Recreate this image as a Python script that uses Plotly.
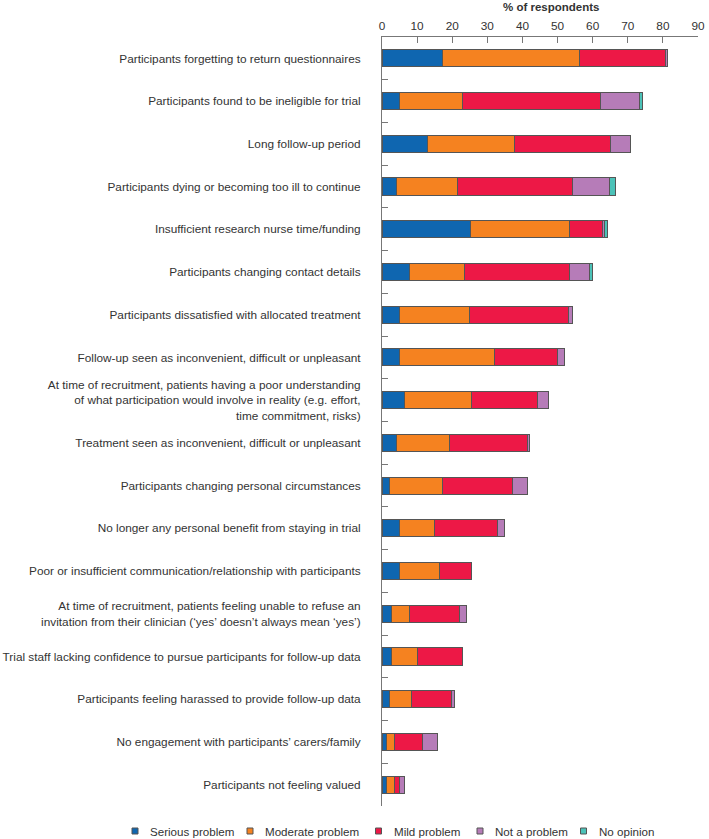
import plotly.graph_objects as go

# Barriers to retention, top to bottom as in the figure
reasons = [
    "Participants forgetting to return questionnaires",
    "Participants found to be ineligible for trial",
    "Long follow-up period",
    "Participants dying or becoming too ill to continue",
    "Insufficient research nurse time/funding",
    "Participants changing contact details",
    "Participants dissatisfied with allocated treatment",
    "Follow-up seen as inconvenient, difficult or unpleasant",
    "At time of recruitment, patients having a poor understanding<br>"
    "of what participation would involve in reality (e.g. effort,<br>"
    "time commitment, risks)",
    "Treatment seen as inconvenient, difficult or unpleasant",
    "Participants changing personal circumstances",
    "No longer any personal benefit from staying in trial",
    "Poor or insufficient communication/relationship with participants",
    "At time of recruitment, patients feeling unable to refuse an<br>"
    "invitation from their clinician (\u2018yes\u2019 doesn\u2019t always mean \u2018yes\u2019)",
    "Trial staff lacking confidence to pursue participants for follow-up data",
    "Participants feeling harassed to provide follow-up data",
    "No engagement with participants\u2019 carers/family",
    "Participants not feeling valued",
]

# % of respondents per response category
serious = [17.1, 5.0, 12.9, 4.2, 25.1, 7.9, 5.0, 5.0, 6.4, 4.2, 2.1, 5.0, 5.0, 2.8, 2.8, 2.1, 1.3, 1.3]
moderate = [39.2, 17.8, 24.9, 17.2, 28.4, 15.6, 20.0, 27.1, 19.2, 15.0, 15.0, 9.9, 11.3, 5.1, 7.2, 6.3, 2.2, 2.2]
mild = [24.5, 39.4, 27.2, 32.9, 9.3, 30.0, 28.0, 17.9, 18.7, 22.2, 20.1, 17.9, 9.3, 14.2, 12.9, 11.5, 7.9, 1.5]
not_problem = [0.5, 11.2, 5.7, 10.6, 0.6, 5.7, 1.3, 2.1, 3.0, 0.6, 4.2, 2.1, 0.0, 2.1, 0.0, 0.8, 4.3, 1.4]
no_opinion = [0.0, 0.9, 0.0, 1.6, 0.9, 0.7, 0.0, 0.0, 0.0, 0.0, 0.0, 0.0, 0.0, 0.0, 0.0, 0.0, 0.0, 0.0]

series = [
    ("Serious problem", serious, "#0f66b0"),
    ("Moderate problem", moderate, "#f58220"),
    ("Mild problem", mild, "#ed1846"),
    ("Not a problem", not_problem, "#b67cb8"),
    ("No opinion", no_opinion, "#4cc2b8"),
]

FONT = "Liberation Sans, Arial, sans-serif"
TEXT = "#333333"
EDGE = "#555555"
AXIS = "#777777"

W, H = 709, 839
M_L, M_R, M_T, M_B = 382, 11, 37, 33
PLOT_W = W - M_L - M_R
PLOT_H = H - M_T - M_B


def px_x(px):
    return (px - M_L) / PLOT_W


def px_y(py):
    return 1 - (py - M_T) / PLOT_H


fig = go.Figure()
for name, values, color in series:
    fig.add_trace(
        go.Bar(
            y=reasons,
            x=values,
            name=name,
            orientation="h",
            marker=dict(color=color, line=dict(color=EDGE, width=1)),
        )
    )

fig.update_layout(
    barmode="stack",
    bargap=0.6,
    width=W,
    height=H,
    margin=dict(l=M_L, r=M_R, t=M_T, b=M_B, autoexpand=False),
    paper_bgcolor="white",
    plot_bgcolor="white",
    font=dict(family=FONT, size=11.8, color=TEXT),
    showlegend=False,
    xaxis=dict(
        side="top",
        range=[0, 90],
        dtick=10,
        showgrid=False,
        zeroline=False,
        showline=True,
        linecolor=AXIS,
        linewidth=1,
        ticks="inside",
        ticklen=6,
        tickcolor=AXIS,
        tickfont=dict(size=11.8),
        ticklabelstandoff=1,
        automargin=False,
    ),
    yaxis=dict(
        autorange="reversed",
        showgrid=False,
        zeroline=False,
        showline=True,
        linecolor=AXIS,
        linewidth=1,
        ticks="inside",
        tickson="boundaries",
        ticklen=6,
        tickcolor=AXIS,
        tickfont=dict(size=11.8),
        ticklabelstandoff=18,
        automargin=False,
    ),
)

# axis title above the top tick labels
fig.add_annotation(
    text="<b>% of respondents</b>",
    xref="paper",
    yref="paper",
    x=px_x(551),
    y=px_y(7),
    xanchor="center",
    yanchor="middle",
    showarrow=False,
    font=dict(size=11.5, color=TEXT),
)

# legend row along the bottom, drawn by hand to keep the tight spacing
legend_marker_px = [135, 250, 378.5, 480, 583.5]
legend_y_px = 831
for (name, _, color), mx in zip(series, legend_marker_px):
    fig.add_shape(
        type="rect",
        xref="paper",
        yref="paper",
        x0=px_x(mx - 3),
        x1=px_x(mx + 3),
        y0=px_y(legend_y_px + 3),
        y1=px_y(legend_y_px - 3),
        fillcolor=color,
        line=dict(color=EDGE, width=1),
    )
    fig.add_annotation(
        text=name,
        xref="paper",
        yref="paper",
        x=px_x(mx + 13),
        y=px_y(legend_y_px),
        xanchor="left",
        yanchor="middle",
        showarrow=False,
        font=dict(size=11.6, color=TEXT),
    )

fig.write_html(
    "out.html",
    config={"displayModeBar": False},
    post_script="document.body.style.margin = '0';",
)
